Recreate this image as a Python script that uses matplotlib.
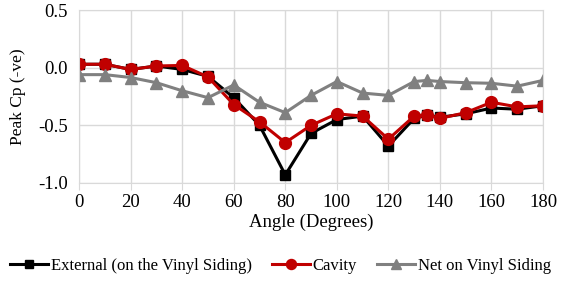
import matplotlib.pyplot as plt

angles = [0, 10, 20, 30, 40, 50, 60, 70, 80, 90, 100, 110, 120, 130, 135, 140, 150, 160, 170, 180]
external = [0.03, 0.03, -0.015, 0.015, -0.015, -0.075, -0.26, -0.50, -0.93, -0.57, -0.45, -0.42, -0.68,
            -0.44, -0.41, -0.43, -0.40, -0.35, -0.36, -0.33]
cavity = [0.03, 0.03, -0.015, 0.015, 0.02, -0.08, -0.32, -0.47, -0.65, -0.50, -0.40, -0.42, -0.62,
          -0.42, -0.41, -0.44, -0.39, -0.30, -0.34, -0.33]
net = [-0.06, -0.06, -0.085, -0.13, -0.20, -0.26, -0.15, -0.30, -0.39, -0.24, -0.12, -0.22, -0.24,
       -0.12, -0.11, -0.12, -0.13, -0.135, -0.16, -0.11]

plt.rcParams['font.family'] = ['Liberation Serif', 'DejaVu Serif']
plt.rcParams['font.size'] = 13.5

fig = plt.figure(figsize=(5.61, 2.81), dpi=100)
ax = fig.add_axes([0.141, 0.349, 0.827, 0.615])

ax.plot(angles, external, '-s', color='black', lw=2.2, ms=7, label='External (on the Vinyl Siding)')
ax.plot(angles, cavity, '-o', color='#c00000', lw=2.2, ms=8.5, label='Cavity')
ax.plot(angles, net, '-^', color='#808080', lw=2.2, ms=8.5, label='Net on Vinyl Siding')

ax.set_xlim(0, 180)
ax.set_ylim(-1.0, 0.5)
ax.set_xticks(range(0, 181, 20))
ax.set_yticks([-1.0, -0.5, 0.0, 0.5])
ax.set_yticklabels(['-1.0', '-0.5', '0.0', '0.5'])
ax.grid(True, color='#d9d9d9', lw=1)
ax.set_axisbelow(True)
for s in ax.spines.values():
    s.set_color('#d9d9d9')
ax.tick_params(axis='y', length=0, pad=8)
ax.tick_params(axis='x', length=5, color='#d9d9d9', pad=3)
ax.set_xlabel('Angle (Degrees)', labelpad=2)
ax.set_ylabel('Peak Cp (-ve)', labelpad=9, fontsize=12.5)

fig.legend(loc='lower center', bbox_to_anchor=(0.5, -0.01), ncol=3, frameon=False,
           prop={'size': 12}, handlelength=2.3, handletextpad=0.15,
           columnspacing=1.2, borderaxespad=0.2, markerscale=0.85)

fig.savefig('out.png', dpi=100)
